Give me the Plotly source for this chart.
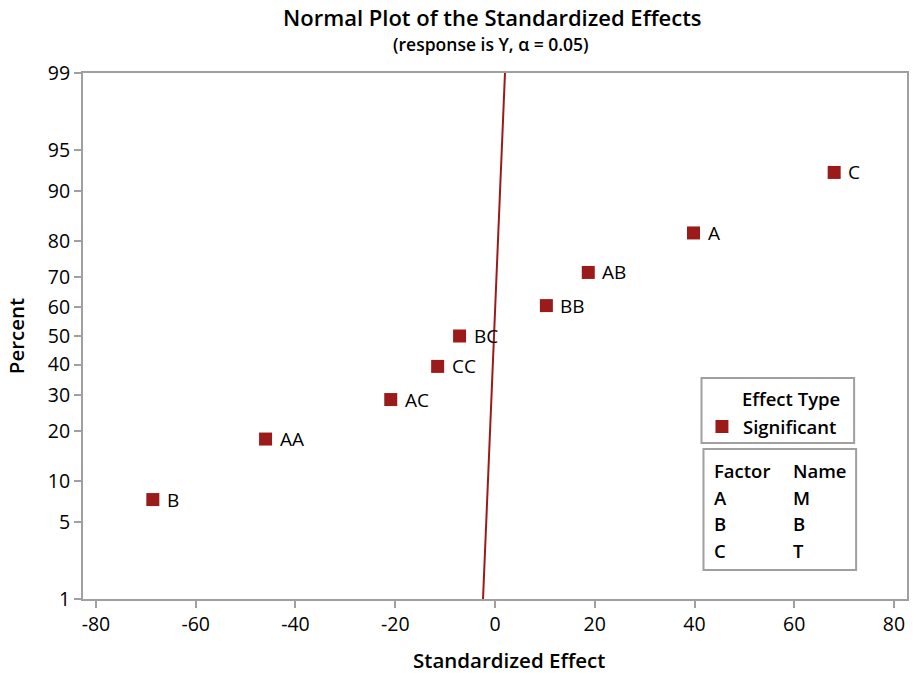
import plotly.graph_objects as go
from statistics import NormalDist

nd = NormalDist()

# Data
terms = ["B", "AA", "AC", "CC", "BC", "BB", "AB", "A", "C"]
effects = [-68.6, -46.0, -20.9, -11.5, -7.1, 10.3, 18.7, 39.8, 68.0]
percents = [7.4, 18.1, 28.7, 39.4, 50.0, 60.6, 71.3, 81.9, 92.6]

line_effect = [-2.4, 2.0]
line_percent = [1, 99]

y_ticks_pct = [1, 5, 10, 20, 30, 40, 50, 60, 70, 80, 90, 95, 99]
x_ticks = [-80, -60, -40, -20, 0, 20, 40, 60, 80]
x_tick_text = ["-80", "-60", "-40", "-20", "0", "20", "40", "60", "80"]

factors = ["A", "B", "C"]
names = ["M", "B", "T"]

RED = "#9b1b1b"
FONT = "Open Sans"
W8 = 600

def z(p):
    return nd.inv_cdf(p / 100.0)

L, R, T, B = 83, 909, 73, 599
def px(xp):
    return (xp - L) / (R - L)
def py(yp):
    return (B - yp) / (B - T)

fig = go.Figure()
fig.add_trace(go.Scatter(
    x=line_effect, y=[z(p) for p in line_percent], mode="lines",
    line=dict(color=RED, width=2), showlegend=False, hoverinfo="skip"))
fig.add_trace(go.Scatter(
    x=effects, y=[z(p) for p in percents], mode="markers",
    marker=dict(symbol="square", size=13, color=RED), showlegend=False,
    text=terms))

for t, e, p in zip(terms, effects, percents):
    fig.add_annotation(x=e, y=z(p), text=t, showarrow=False, xanchor="left",
                       xshift=12, font=dict(family=FONT, size=19, color="black"))

# legend boxes
fig.add_shape(type="rect", xref="paper", yref="paper",
              x0=px(703), x1=px(856), y0=py(443), y1=py(378),
              line=dict(color="#a0a0a0", width=2), fillcolor="white")
fig.add_shape(type="rect", xref="paper", yref="paper",
              x0=px(705), x1=px(858), y0=py(570), y1=py(449),
              line=dict(color="#a0a0a0", width=2), fillcolor="white")
fig.add_shape(type="rect", xref="paper", yref="paper",
              x0=px(717), x1=px(730), y0=py(433), y1=py(420),
              line=dict(width=0), fillcolor=RED)
lf = dict(family=FONT, size=18.5, color="black", weight=W8)
fig.add_annotation(xref="paper", yref="paper", x=px(844), y=py(398), text="Effect Type",
                   showarrow=False, xanchor="right", yanchor="middle", font=lf)
fig.add_annotation(xref="paper", yref="paper", x=px(743), y=py(426), text="Significant",
                   showarrow=False, xanchor="left", yanchor="middle", font=lf)
fig.add_annotation(xref="paper", yref="paper", x=px(714), y=py(470), text="Factor",
                   showarrow=False, xanchor="left", yanchor="middle", font=lf)
fig.add_annotation(xref="paper", yref="paper", x=px(793), y=py(470), text="Name",
                   showarrow=False, xanchor="left", yanchor="middle", font=lf)
for i, (f, n) in enumerate(zip(factors, names)):
    yy = 497 + i * 26.5
    fig.add_annotation(xref="paper", yref="paper", x=px(714), y=py(yy), text=f,
                       showarrow=False, xanchor="left", yanchor="middle", font=lf)
    fig.add_annotation(xref="paper", yref="paper", x=px(793), y=py(yy), text=n,
                       showarrow=False, xanchor="left", yanchor="middle", font=lf)

# titles
fig.add_annotation(xref="paper", yref="paper", x=px(493), y=py(17), xanchor="center", yanchor="middle",
                   text="Normal Plot of the Standardized Effects", showarrow=False,
                   font=dict(family=FONT, size=22, color="black", weight=W8))
fig.add_annotation(xref="paper", yref="paper", x=px(492), y=py(44), xanchor="center", yanchor="middle",
                   text="(response is Y, α = 0.05)", showarrow=False,
                   font=dict(family=FONT, size=17.5, color="black", weight=W8))
fig.add_annotation(xref="paper", yref="paper", x=px(510), y=py(660), xanchor="center", yanchor="middle",
                   text="Standardized Effect", showarrow=False,
                   font=dict(family=FONT, size=20.5, color="black", weight=W8))
fig.add_annotation(xref="paper", yref="paper", x=px(16), y=py(336), xanchor="center", yanchor="middle",
                   text="Percent", showarrow=False, textangle=-90,
                   font=dict(family=FONT, size=20.5, color="black", weight=W8))

fig.update_layout(
    width=914, height=673,
    margin=dict(l=L, r=914 - R, t=T, b=673 - B),
    paper_bgcolor="white", plot_bgcolor="white",
    font=dict(family=FONT, color="black"),
    xaxis=dict(range=[(L - 496) / 5.0, (R - 496) / 5.0], tickvals=x_ticks, ticktext=x_tick_text,
               ticks="outside", ticklen=7, tickwidth=2, tickcolor="#a0a0a0",
               showgrid=False, zeroline=False, showline=True, linecolor="#a0a0a0",
               linewidth=2, mirror=True, tickfont=dict(size=19.5, color="black")),
    yaxis=dict(range=[z(1), z(99)], tickvals=[z(p) for p in y_ticks_pct],
               ticktext=[str(p) for p in y_ticks_pct],
               ticks="outside", ticklen=7, tickwidth=2, tickcolor="#a0a0a0",
               showgrid=False, zeroline=False, showline=True, linecolor="#a0a0a0",
               linewidth=2, mirror=True, tickfont=dict(size=19.5, color="black")),
)

fig.write_html("out.html", config={"displayModeBar": False},
               post_script="document.body.style.margin='0';")
